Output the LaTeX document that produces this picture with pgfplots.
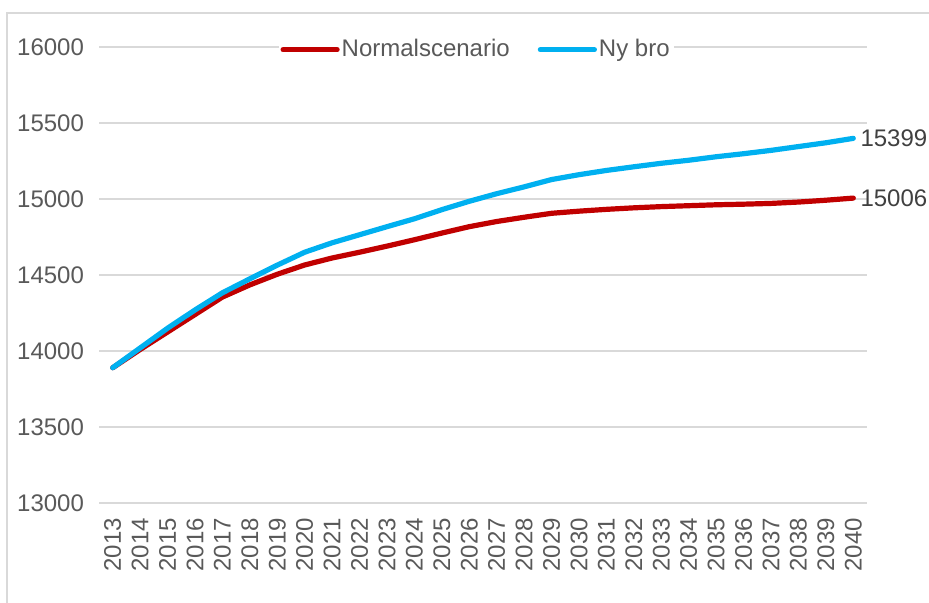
\documentclass[border=0pt]{standalone}
\usepackage{pgfplots}
\pgfplotsset{compat=1.18}
\usepackage{pgfplotstable}
\usepackage{fontspec}
\setmainfont{Liberation Sans}
\definecolor{redline}{HTML}{C00000}
\definecolor{blueline}{HTML}{00B0F0}
\definecolor{gridc}{HTML}{D9D9D9}
\definecolor{tickc}{HTML}{595959}
\definecolor{labc}{HTML}{404040}
\pgfplotstableread{
x year normal nybro
0 2013 13890 13890
1 2014 14010 14020
2 2015 14125 14150
3 2016 14240 14270
4 2017 14355 14383
5 2018 14435 14475
6 2019 14505 14565
7 2020 14566 14650
8 2021 14612 14712
9 2022 14650 14765
10 2023 14690 14818
11 2024 14732 14870
12 2025 14776 14930
13 2026 14818 14985
14 2027 14852 15035
15 2028 14880 15080
16 2029 14906 15128
17 2030 14920 15160
18 2031 14932 15188
19 2032 14942 15212
20 2033 14950 15235
21 2034 14956 15255
22 2035 14962 15278
23 2036 14966 15298
24 2037 14971 15320
25 2038 14980 15345
26 2039 14992 15370
27 2040 15006 15399
}\data
\begin{document}
\begin{tikzpicture}
\useasboundingbox (-49.5pt,-49.5pt) rectangle (415pt,251.5pt);
\draw[gridc, line width=0.8pt] (-46pt,-60pt) -- (-46pt,245pt) -- (430pt,245pt);
\begin{axis}[
  scale only axis,
  width=384pt, height=228pt,
  xmin=-0.5, xmax=27.5,
  ymin=13000, ymax=16000,
  ytick={13000,13500,...,16000},
  scaled y ticks=false,
  yticklabel={\pgfmathprintnumber[fixed,precision=0,1000 sep={}]{\tick}},
  xtick={0,...,27},
  xticklabels={2013,2014,2015,2016,2017,2018,2019,2020,2021,2022,2023,2024,2025,2026,2027,2028,2029,2030,2031,2032,2033,2034,2035,2036,2037,2038,2039,2040},
  x tick label style={rotate=90, anchor=east, font=\fontsize{12}{14}\selectfont, text=tickc},
  y tick label style={font=\fontsize{12}{14}\selectfont, text=tickc},
  xtick style={draw=none},
  ytick style={draw=none},
  extra x ticks={-0.5,0.5,...,27.5},
  extra x tick labels={},
  extra x tick style={tick style={draw=gridc, line width=0.8pt}, major tick length=3pt, tick align=outside},
  /pgf/number format/assume math mode=true,
  /pgf/number format/1000 sep={},
  axis lines*=left,
  x axis line style={draw=gridc, line width=0.8pt},
  y axis line style={draw=none},
  ymajorgrids,
  grid style={draw=gridc, line width=0.8pt},
  yticklabel style={xshift=-4pt},
  xticklabel style={xshift=-4pt},
  clip=false,
  legend columns=2,
  legend style={at={(0.491,0.994)}, anchor=center, draw=none, fill=white,
    font=\fontsize{12}{14}\selectfont, text=tickc, inner sep=1pt,
    /tikz/every even column/.append style={column sep=13pt},
    /tikz/every odd column/.append style={column sep=0pt},
    nodes={inner xsep=1pt}},
  legend image code/.code={\draw[#1, line width=2.6pt, line cap=round] (0pt,0pt) -- (27pt,0pt);},
  legend cell align=left,
]
\addplot[redline, line width=2.6pt, line cap=round, line join=round] table[x=x, y=normal] {\data};
\addlegendentry{Normalscenario}
\addplot[blueline, line width=2.6pt, line cap=round, line join=round] table[x=x, y=nybro] {\data};
\addlegendentry{Ny bro}
\node[anchor=west, text=labc, font=\fontsize{12}{14}\selectfont, inner sep=0pt] at (axis cs:27.25,15399) {15399};
\node[anchor=west, text=labc, font=\fontsize{12}{14}\selectfont, inner sep=0pt] at (axis cs:27.25,15006) {15006};
\end{axis}
\end{tikzpicture}
\end{document}
